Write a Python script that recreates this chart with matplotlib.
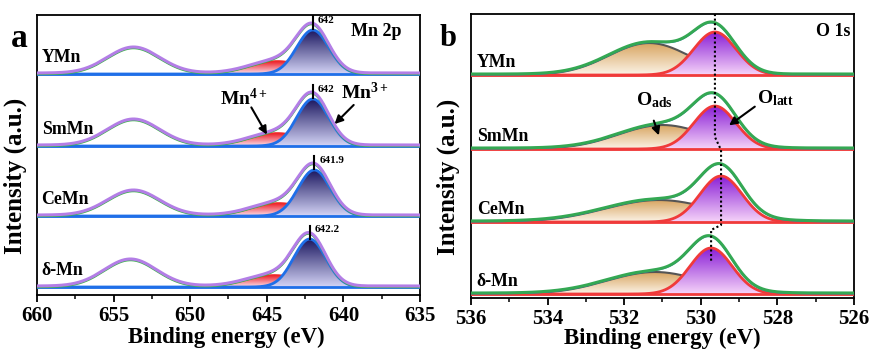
import numpy as np
import matplotlib
matplotlib.use("Agg")
import matplotlib.pyplot as plt
from matplotlib.colors import LinearSegmentedColormap

plt.rcParams["font.family"] = ["Liberation Serif", "DejaVu Serif"]
plt.rcParams["font.weight"] = "bold"
plt.rcParams["mathtext.fontset"] = "custom"
plt.rcParams["mathtext.rm"] = "Liberation Serif:bold"
plt.rcParams["mathtext.it"] = "Liberation Serif:bold"
plt.rcParams["mathtext.bf"] = "Liberation Serif:bold"

samples = ["YMn", "SmMn", "CeMn", "δ-Mn"]

# Mn 2p fit peaks (centre eV, height a.u., sigma eV)
mn3_pos = [642.0, 642.0, 641.9, 642.2]
mn3_h = [44, 47, 46, 48]
mn3_w = [1.05, 1.05, 1.05, 1.05]
mn4_pos = [644.3, 644.3, 644.2, 644.5]
mn4_h = [13, 13, 13, 12]
mn4_w = [1.8, 1.8, 1.8, 1.8]
p12_pos = [653.7, 653.7, 653.7, 653.9]
p12_h = [26, 26, 25, 27]
p12_w = [1.7, 1.7, 1.7, 1.7]
mn_offset = [221, 149, 79, 8]
mn_peak_lbl = ["642", "642", "641.9", "642.2"]

# O 1s fit peaks
olatt_pos = [529.63, 529.63, 529.47, 529.73]
olatt_h = [43, 43, 46, 46]
olatt_w = [0.55, 0.55, 0.55, 0.55]
oads_pos = [531.35, 531.0, 531.1, 531.2]
oads_h = [32, 24, 22, 22]
oads_w = [1.05, 1.15, 1.4, 1.25]
o_offset = [223, 149, 76, 4]

# dotted guide through O_latt peaks
guide_x = [529.63, 529.63, 529.47, 529.47, 529.73, 529.73]
guide_y = [284, 161, 148, 73, 68, 36]


def gauss(x, c, h, s):
    return h * np.exp(-((x - c) ** 2) / (2 * s ** 2))


def grad_fill(ax, x, base, y, c_top, c_bot, z):
    m = y > 0.05
    xs, ys = x[m], y[m]
    poly = ax.fill_between(xs, base, base + ys, facecolor="none", edgecolor="none")
    cmap = LinearSegmentedColormap.from_list("g", [c_bot, c_top])
    grad = np.linspace(0, 1, 256).reshape(-1, 1)
    im = ax.imshow(grad, cmap=cmap, aspect="auto", origin="lower",
                   extent=[xs.min(), xs.max(), base, base + ys.max()], zorder=z)
    im.set_clip_path(poly.get_paths()[0], transform=ax.transData)


fig = plt.figure(figsize=(8.79, 3.53), dpi=100)
ax1 = fig.add_axes([0.0421, 0.1643, 0.4357, 0.7932])
ax2 = fig.add_axes([0.5358, 0.1558, 0.4357, 0.8045])

# ---- panel a : Mn 2p
xa = np.linspace(635, 660, 1500)
for i in range(4):
    b = mn_offset[i]
    g3 = gauss(xa, mn3_pos[i], mn3_h[i], mn3_w[i])
    g4 = gauss(xa, mn4_pos[i], mn4_h[i], mn4_w[i])
    g12 = gauss(xa, p12_pos[i], p12_h[i], p12_w[i])
    env = g3 + g4 + g12
    grad_fill(ax1, xa, b, g4, "#ee1c24", "#fbe3f0", 2)
    ax1.plot(xa, b + g4, color="#ee2a2a", lw=1.2, zorder=3)
    grad_fill(ax1, xa, b, g3, "#1b1760", "#d4d4f6", 4)
    ax1.plot(xa, b + g3, color="#1f6fe8", lw=2, zorder=5)
    ax1.axhline(b, color="#1f6fe8", lw=2, zorder=5)
    ax1.plot(xa, b + env, color="#3cb44b", lw=1.8, zorder=6)
    ax1.plot(xa, b + env + 1, color="#b37ee6", lw=2.2, zorder=7)
    ax1.text(659.7, b + 17, samples[i], fontsize=12.8, fontweight="bold",
             va="center", ha="left")
    top = b + mn3_h[i] + mn4_h[i] * np.exp(-((mn3_pos[i] - mn4_pos[i]) ** 2) / (2 * mn4_w[i] ** 2))
    ax1.plot([mn3_pos[i], mn3_pos[i]], [top - 5, top + 8], color="black", lw=1.5, zorder=8)
    ax1.text(mn3_pos[i] - 0.35, top + 4, mn_peak_lbl[i], fontsize=8,
             fontweight="bold", va="center", ha="left")

ax1.annotate("", xy=(644.9, 158), xytext=(646.1, 190),
             arrowprops=dict(arrowstyle="-|>", color="black", lw=1.5, mutation_scale=12), zorder=9)
ax1.annotate("", xy=(640.7, 169), xytext=(639.2, 192),
             arrowprops=dict(arrowstyle="-|>", color="black", lw=1.5, mutation_scale=12), zorder=9)
ax1.text(646.5, 197, "Mn$^{4+}$", fontsize=14, ha="center", va="center")
ax1.text(638.6, 203, "Mn$^{3+}$", fontsize=14, ha="center", va="center")
ax1.text(636.2, 264, "Mn 2p", fontsize=13, ha="right", va="center")

ax1.set_xlim(660, 635)
ax1.set_ylim(0, 280)
ax1.set_xticks([660, 655, 650, 645, 640, 635])
ax1.set_xticks(np.arange(635, 661, 2.5), minor=True)
ax1.set_yticks([])
ax1.set_xlabel("Binding energy (eV)", fontsize=16.5, fontweight="bold", va="top")
ax1.set_ylabel("Intensity (a.u.)", fontsize=18, fontweight="bold", va="center")
ax1.xaxis.set_label_coords(0.493, -0.115)
ax1.yaxis.set_label_coords(-0.057, 0.425)
fig.text(0.012, 0.89, "a", fontsize=24, fontweight="bold", va="center")

# ---- panel b : O 1s
xb = np.linspace(526, 536, 1500)
for i in range(4):
    b = o_offset[i]
    gl = gauss(xb, olatt_pos[i], olatt_h[i], olatt_w[i])
    ga = gauss(xb, oads_pos[i], oads_h[i], oads_w[i])
    env = gl + ga
    grad_fill(ax2, xb, b, ga, "#d8a561", "#fcf4e8", 2)
    ax2.plot(xb, b + ga, color="#555555", lw=1.5, zorder=3)
    grad_fill(ax2, xb, b, gl, "#8a1fd6", "#f6d4f9", 4)
    ax2.plot(xb, b + gl, color="#f03a3a", lw=2, zorder=5)
    ax2.axhline(b, color="#f03a3a", lw=2, zorder=5)
    ax2.plot(xb, b + env + 0.6, color="#2a6fe0", lw=1.5, zorder=6)
    ax2.plot(xb, b + env + 1, color="#34a853", lw=2.2, zorder=7)
    ax2.text(535.85, b + 13, samples[i], fontsize=12.8, fontweight="bold",
             va="center", ha="left")

ax2.plot(guide_x, guide_y, color="black", lw=1.5, ls=(0, (1, 1.2)), zorder=8)
ax2.annotate("", xy=(531.07, 160), xytext=(531.25, 180),
             arrowprops=dict(arrowstyle="-|>", color="black", lw=1.5, mutation_scale=12), zorder=9)
ax2.annotate("", xy=(529.32, 171), xytext=(528.53, 193),
             arrowprops=dict(arrowstyle="-|>", color="black", lw=1.5, mutation_scale=12), zorder=9)
ax2.text(531.2, 198, "O$_{\\mathrm{ads}}$", fontsize=14, ha="center", va="center")
ax2.text(528.06, 200, "O$_{\\mathrm{latt}}$", fontsize=14, ha="center", va="center")
ax2.text(526.1, 267, "O 1s", fontsize=13, ha="right", va="center")

ax2.set_xlim(536, 526)
ax2.set_ylim(0, 284)
ax2.set_xticks([536, 534, 532, 530, 528, 526])
ax2.set_xticks(np.arange(526, 537, 1), minor=True)
ax2.set_yticks([])
ax2.set_xlabel("Binding energy (eV)", fontsize=16.5, fontweight="bold", va="top")
ax2.set_ylabel("Intensity (a.u.)", fontsize=18, fontweight="bold", va="center")
ax2.xaxis.set_label_coords(0.499, -0.104)
ax2.yaxis.set_label_coords(-0.06, 0.426)
fig.text(0.500, 0.89, "b", fontsize=22, fontweight="bold", va="center")

for ax in (ax1, ax2):
    for s in ax.spines.values():
        s.set_linewidth(1.3)
    ax.tick_params(axis="x", which="major", direction="out", length=5, width=1.3,
                   labelsize=15, pad=3)
    ax.tick_params(axis="x", which="minor", direction="out", length=3, width=1.1)
    for lbl in ax.get_xticklabels():
        lbl.set_fontweight("bold")

fig.savefig("out.png", dpi=100)
